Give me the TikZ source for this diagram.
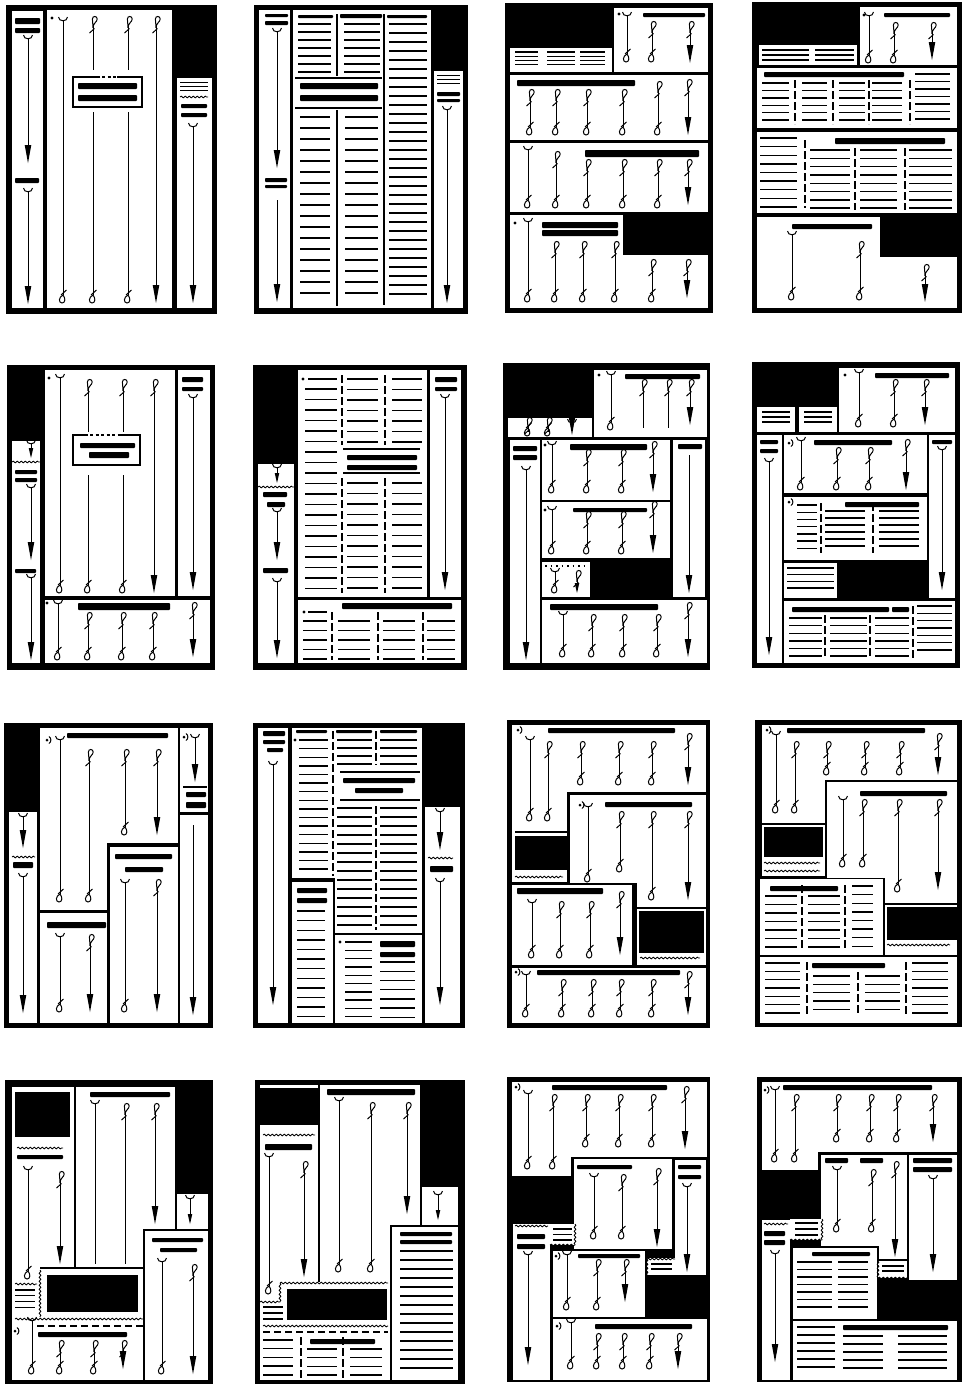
\documentclass[tikz,border=0pt]{standalone}
\usetikzlibrary{decorations.pathmorphing}
\tikzset{
  cl/.style={line width=0.9pt},
  gl/.style={line width=1pt},
  tline/.style={line width=1.4pt},
  rl/.style={line width=1.3pt,dash pattern=on 8pt off 3pt},
  rs/.style={line width=1.3pt},
  wv/.style={decorate,decoration={snake,amplitude=0.9pt,segment length=4pt},line width=0.8pt},
  bxl/.style={line width=1.5pt},
  pics/tc/.style={code={\draw[gl] (-4.5,-4) .. controls (-4.5,1) and (4.5,1) .. (4.5,-4);}},
  pics/tl/.style={code={\draw[gl] (0,1) .. controls (0,-4) and (4.2,-5) .. (4.2,-8) .. controls (4.2,-11.2) and (-0.6,-11.5) .. (-0.6,-8) .. controls (-0.6,-5) and (0,-3) .. (0,1); \draw[gl] (-3.5,6) -- (1.5,1.5);}},
  pics/tn/.style={code={}},
  pics/bl/.style={code={\draw[gl] (0,-8) .. controls (-4.6,-6) and (-4.6,0) .. (-1,0) .. controls (2.6,0) and (2.6,-5) .. (0,-8); \draw[gl] (-2,-8) -- (3.5,-13);}},
  pics/ba/.style={code={\fill (0,0) -- (-3.3,-18) -- (3.3,-18) -- cycle;}},
  pics/bs/.style={code={\fill (0,0) -- (-2.3,-10) -- (2.3,-10) -- cycle;}},
  pics/bn/.style={code={}},
}
\def\offBl{8}\def\offBa{8}\def\offBs{5}\def\offBn{0}
\newcommand\Fr[4]{\fill[black] (#1,#2) rectangle (#3,#4);}
\newcommand\Wb[4]{\fill[white] (#1,#2) rectangle (#3,#4);}
\newcommand\Hb[4]{\fill[black,rounded corners=0.8pt] (#1,#2) rectangle (#3,#4);}
\newcommand\Tl[3]{\draw[tline] (#1,#3) -- (#2,#3);}
\newcommand\Tls[6][]{\foreach \ii in {1,...,#6}{\draw[tline,#1] (#2,{#4+(\ii-1)*#5}) -- (#3,{#4+(\ii-1)*#5});}}
\newcommand\Kol[5]{\draw[cl] (#1,#2) -- (#1,{#3-\csname offB#5\endcsname}); \pic at (#1,#2) {t#4}; \pic at (#1,#3) {b#5};}
\newcommand\Dt[2]{\fill (#1,#2) circle (1.6pt);}
\newcommand\Dp[2]{\fill (#1,#2) circle (1.5pt); \draw[gl] ({#1+2},{#2-3.5}) .. controls ({#1+4.5},{#2-2}) and ({#1+4.5},{#2+2}) .. ({#1+2},{#2+3.5});}
\newcommand\Wv[3]{\draw[wv] (#1,#3) -- (#2,#3);}
\newcommand\Wvv[3]{\draw[wv] (#1,#2) -- (#1,#3);}
\newcommand\Rl[3]{\draw[rl] (#1,#2) -- (#1,#3);}
\newcommand\Rs[3]{\draw[rs] (#1,#2) -- (#1,#3);}
\newcommand\Hr[3]{\draw[rs] (#1,#3) -- (#2,#3);}
\newcommand\Dsh[3]{\draw[line width=1.3pt,dash pattern=on 7pt off 4pt] (#1,#3) -- (#2,#3);}
\begin{document}
\begin{tikzpicture}[x=1pt,y=-1pt]
\useasboundingbox (0,0) rectangle (970,1385);
\fill[white] (0,0) rectangle (970,1385);
% ================= P1
\Fr{6}{5}{217}{314}
\Wb{12}{11}{43}{308}\Wb{47}{10}{172}{308}\Wb{177}{78}{212}{308}
\Hb{15}{18}{40}{24}\Hb{15}{28}{40}{33}
\Kol{28}{39}{163}{c}{a}
\Hb{15}{178}{39}{183}
\Kol{28}{192}{304}{c}{a}
\Dt{52}{18}
\Kol{63}{21}{303}{c}{l}
\Kol{93}{27}{70}{l}{n}\Kol{93}{112}{303}{n}{l}
\Kol{128}{27}{70}{l}{n}\Kol{128}{112}{303}{n}{l}
\Kol{156}{27}{303}{l}{a}
\draw[bxl] (100,77) -- (73,77) -- (73,107) -- (142,107) -- (142,77) -- (117,77);
\draw[bxl,dash pattern=on 3pt off 2.5pt] (102,77) -- (117,77);
\Hb{78}{83}{137}{89}\Hb{78}{95}{137}{101}
\Tls[line width=1pt]{180}{208}{82}{4}{3}
\Wv{180}{208}{97}
\Hb{181}{104}{207}{108}\Hb{181}{113}{207}{117}
\Kol{193}{127}{303}{c}{a}
% ================= P2
\Fr{254}{5}{468}{314}
\Wb{259}{10}{290}{308}\Wb{293}{10}{431}{308}\Wb{434}{71}{463}{308}
\Hb{265}{14}{288}{17}\Hb{265}{21}{288}{25}
\Kol{277}{32}{168}{c}{a}
\Hb{265}{178}{287}{182}\Hb{265}{185}{287}{188}
\Kol{277}{200}{302}{n}{a}
\Hb{298}{15}{333}{18}\Hb{340}{14}{382}{18}\Hb{387}{15}{427}{18}
\Tls{298}{331}{24}{8}{7}
\Tls{344}{380}{24}{8}{7}
\Rs{337}{14}{76}\Rs{384}{14}{305}
\Hr{295}{382}{78}
\Hb{300}{83}{378}{89}\Hb{300}{95}{378}{101}
\Hr{295}{382}{108}
\Rs{337}{110}{306}
\Tls{300}{330}{117}{11}{17}
\Tls{345}{378}{117}{11}{17}
\Tls{389}{427}{24}{9}{31}
\Tls[line width=1pt]{437}{460}{75}{4}{3}
\Hb{437}{92}{460}{96}\Hb{437}{99}{460}{102}
\Kol{447}{110}{303}{c}{a}
% ================= P3
\Fr{505}{3}{713}{313}
\Wb{510}{48}{612}{72}\Wb{614}{8}{708}{72}\Wb{510}{75}{708}{140}\Wb{510}{143}{708}{212}
\Wb{510}{215}{623}{308}\Wb{510}{255}{708}{308}
\Tls[line width=1.1pt]{515}{538}{52}{4.3}{4}\Tls[line width=1.1pt]{547}{575}{52}{4.3}{4}\Tls[line width=1.1pt]{580}{605}{52}{4.3}{4}
\Dt{619}{14}
\Kol{627}{16}{62}{c}{l}
\Hb{643}{13}{705}{17}
\Kol{652}{32}{62}{l}{l}
\Kol{690}{32}{63}{l}{a}
\Hb{517}{80}{635}{86}
\Kol{530}{100}{135}{l}{l}\Kol{556}{100}{135}{l}{l}\Kol{587}{100}{135}{l}{l}\Kol{623}{100}{135}{l}{l}
\Kol{658}{92}{135}{l}{l}\Kol{688}{90}{135}{l}{a}
\Hb{585}{150}{699}{157}
\Kol{528}{150}{208}{c}{l}\Kol{556}{162}{208}{l}{l}\Kol{587}{170}{208}{l}{l}\Kol{623}{170}{208}{l}{l}
\Kol{658}{170}{208}{l}{l}\Kol{688}{170}{205}{l}{a}
\Dt{515}{223}
\Kol{528}{222}{302}{c}{l}
\Hb{542}{222}{618}{228}\Hb{542}{230}{618}{236}
\Kol{555}{252}{302}{l}{l}\Kol{583}{252}{302}{l}{l}\Kol{615}{252}{302}{l}{l}
\Kol{652}{270}{302}{l}{l}\Kol{687}{270}{298}{l}{a}
% ================= P4
\Fr{752}{2}{962}{313}
\Wb{759}{45}{857}{65}\Wb{860}{7}{957}{65}\Wb{757}{68}{957}{128}\Wb{757}{132}{957}{213}
\Wb{757}{217}{880}{308}\Wb{757}{257}{957}{308}
\Tls[line width=1.1pt]{762}{809}{50}{5}{3}\Tls[line width=1.1pt]{815}{854}{50}{5}{3}
\Dt{864}{15}
\Kol{869}{16}{63}{c}{l}
\Hb{884}{13}{950}{17}
\Kol{894}{33}{63}{l}{l}
\Kol{932}{33}{60}{l}{a}
\Hb{764}{72}{904}{77}
\Tls{762}{789}{83}{7.4}{6}\Tls{802}{827}{83}{7.4}{6}\Tls{839}{865}{83}{7.4}{6}\Tls{872}{902}{83}{7.4}{6}
\Tls{915}{950}{74}{7.5}{7}
\Rl{795}{80}{124}\Rl{833}{80}{124}\Rl{869}{80}{124}\Rl{910}{80}{124}
\Hb{835}{138}{945}{144}
\Tls{760}{797}{138}{8.6}{9}
\Rl{805}{140}{208}
\Tls{810}{850}{150}{8.3}{8}\Tls{860}{897}{150}{8.3}{8}\Tls{909}{952}{150}{8.3}{8}
\Rl{855}{148}{210}\Rl{905}{148}{210}
\Hb{792}{224}{872}{229}
\Kol{792}{235}{300}{c}{l}
\Kol{860}{252}{300}{l}{l}
\Kol{925}{275}{302}{l}{a}
% ================= P5
\Fr{7}{365}{215}{670}
\Wb{12}{441}{40}{663}\Wb{45}{370}{175}{596}\Wb{178}{370}{210}{596}\Wb{45}{600}{210}{663}
\Kol{31}{444}{458}{c}{s}
\Wv{12}{40}{462}
\Hb{15}{470}{37}{474}\Hb{15}{478}{37}{482}
\Kol{31}{488}{560}{c}{a}
\Hb{15}{569}{36}{573}
\Kol{31}{578}{660}{c}{a}
\Dt{49}{378}
\Kol{60}{378}{593}{c}{l}
\Kol{88}{390}{432}{l}{n}\Kol{88}{475}{593}{n}{l}
\Kol{123}{390}{432}{l}{n}\Kol{123}{475}{593}{n}{l}
\Kol{154}{390}{593}{l}{a}
\draw[bxl] (88,435) -- (73,435) -- (73,465) -- (140,465) -- (140,435) -- (120,435);
\draw[bxl,dash pattern=on 3pt off 2.5pt] (90,435) -- (120,435);
\Hb{80}{443}{135}{448}\Hb{89}{452}{129}{458}
\Hb{182}{377}{203}{382}\Hb{182}{387}{203}{391}
\Kol{193}{398}{590}{c}{a}
\Dt{47}{603}
\Kol{58}{604}{660}{c}{l}
\Hb{78}{603}{170}{610}
\Kol{88}{623}{660}{l}{l}\Kol{122}{623}{660}{l}{l}\Kol{153}{623}{660}{l}{l}
\Kol{193}{613}{657}{l}{a}
% ================= P6
\Fr{253}{365}{467}{670}
\Wb{258}{464}{294}{663}\Wb{298}{370}{427}{597}\Wb{430}{370}{461}{597}\Wb{298}{600}{461}{663}
\Kol{277}{468}{483}{c}{s}
\Wv{258}{294}{487}
\Hb{263}{492}{287}{497}\Hb{267}{502}{285}{507}
\Kol{277}{512}{560}{c}{a}
\Hb{263}{568}{288}{573}
\Kol{277}{582}{658}{c}{a}
\Dt{303}{379}
\Tl{308}{337}{379}
\Tls{305}{337}{389}{10.5}{20}
\Tls{347}{378}{379}{10.5}{7}\Tls{392}{422}{379}{10.5}{7}
\Hr{343}{420}{449}
\Hb{347}{455}{417}{460}\Hb{347}{465}{417}{470}
\Hr{343}{420}{473}
\Tls{347}{378}{483}{10.5}{11}\Tls{392}{422}{483}{10.5}{11}
\Rl{342}{375}{445}\Rl{342}{478}{593}\Rl{385}{375}{445}\Rl{385}{478}{593}
\Hb{435}{377}{457}{382}\Hb{435}{387}{457}{391}
\Kol{445}{398}{590}{c}{a}
\Dt{304}{612}
\Hb{342}{603}{452}{609}
\Tl{308}{327}{612}
\Tls{303}{327}{621}{9.5}{5}\Tls{338}{370}{621}{9.5}{5}\Tls{383}{415}{621}{9.5}{5}\Tls{427}{455}{621}{9.5}{5}
\Rl{332}{612}{660}\Rl{378}{612}{660}\Rl{423}{612}{660}
% ================= P7
\Fr{503}{363}{710}{670}
\Wb{508}{418}{592}{437}\Wb{594}{370}{707}{437}\Wb{510}{440}{540}{663}\Wb{542}{440}{670}{500}
\Wb{542}{502}{670}{558}\Wb{542}{562}{590}{597}\Wb{673}{440}{705}{597}\Wb{542}{600}{707}{663}
\begin{scope}[shift={(528,428)},scale=0.5]\Kol{0}{0}{16}{l}{l}\end{scope}
\begin{scope}[shift={(548,428)},scale=0.5]\Kol{0}{0}{16}{l}{l}\end{scope}
\begin{scope}[shift={(572,423)},scale=0.5]\Kol{0}{0}{24}{c}{a}\end{scope}
\Dt{599}{375}
\Kol{611}{375}{430}{c}{l}
\Hb{625}{374}{700}{379}
\Kol{643}{390}{428}{l}{n}\Kol{668}{390}{428}{l}{n}\Kol{690}{390}{425}{l}{a}
\Hb{513}{446}{537}{451}\Hb{513}{455}{537}{460}
\Kol{526}{470}{660}{c}{a}
\Dt{545}{445}
\Kol{552}{445}{493}{c}{l}
\Hb{570}{444}{647}{450}
\Kol{587}{460}{493}{l}{l}\Kol{622}{460}{493}{l}{l}\Kol{653}{452}{492}{l}{a}
\Dt{545}{510}
\Kol{552}{510}{554}{c}{l}
\Hb{573}{508}{647}{512}
\Kol{587}{522}{554}{l}{l}\Kol{622}{522}{554}{l}{l}\Kol{653}{512}{553}{l}{a}
\draw[line width=1.3pt,dash pattern=on 1.5pt off 4pt] (545,566) -- (585,566);
\Kol{555}{572}{593}{c}{l}
\Kol{577}{581}{593}{l}{s}
\Hb{678}{444}{702}{449}
\Kol{689}{455}{593}{n}{a}
\Hb{550}{604}{658}{610}
\Kol{563}{615}{657}{c}{l}
\Kol{592}{625}{657}{l}{l}\Kol{623}{625}{657}{l}{l}\Kol{657}{625}{657}{l}{l}
\Kol{688}{613}{657}{l}{a}
% ================= P8
\Fr{752}{362}{960}{668}
\Wb{757}{407}{795}{432}\Wb{799}{407}{837}{432}\Wb{839}{368}{955}{432}\Wb{757}{435}{782}{663}
\Wb{784}{435}{927}{493}\Wb{784}{497}{927}{560}\Wb{784}{563}{837}{598}\Wb{929}{435}{955}{598}\Wb{784}{601}{955}{663}
\Tls[line width=1.1pt]{762}{790}{412}{5}{3}\Tls[line width=1.1pt]{804}{832}{412}{5}{3}
\Dt{845}{375}
\Kol{859}{373}{427}{c}{l}
\Hb{875}{373}{949}{378}
\Kol{894}{390}{427}{l}{l}\Kol{925}{390}{425}{l}{a}
\Hb{760}{440}{778}{444}\Hb{760}{449}{778}{453}
\Kol{769}{462}{655}{c}{a}
\Dp{789}{443}
\Kol{801}{441}{490}{c}{l}
\Hb{814}{440}{892}{445}
\Kol{837}{458}{490}{l}{l}\Kol{869}{458}{490}{l}{l}\Kol{906}{450}{490}{l}{a}
\Dp{789}{502}
\Hb{845}{502}{919}{507}
\Tls{797}{817}{505}{7.2}{7}\Tls{825}{865}{511}{7}{6}\Tls{879}{919}{511}{7}{6}
\Rl{821}{503}{553}\Rl{873}{503}{553}
\Tls{787}{834}{568}{6.7}{4}
\Hb{932}{440}{952}{444}
\Kol{942}{450}{590}{c}{a}
\Hb{792}{607}{889}{612}\Hb{892}{607}{909}{612}
\Tls{789}{822}{618}{7.6}{6}\Tls{830}{867}{618}{7.6}{6}\Tls{875}{909}{618}{7.6}{6}\Tls{917}{952}{606}{7.3}{7}
\Rl{825}{615}{658}\Rl{870}{615}{658}\Rl{913}{606}{658}
% ================= P9
\Fr{4}{723}{213}{1028}
\Wb{9}{812}{37}{1023}\Wb{40}{728}{178}{843}\Wb{40}{843}{107}{910}\Wb{40}{913}{107}{1023}
\Wb{110}{847}{178}{1023}\Wb{180}{728}{208}{812}\Wb{180}{815}{208}{1023}
\Kol{23}{817}{848}{c}{a}
\Wv{12}{35}{857}
\Hb{13}{862}{33}{868}
\Kol{23}{877}{1013}{c}{a}
\Dp{47}{740}
\Kol{60}{740}{902}{c}{l}
\Hb{67}{733}{168}{738}
\Kol{89}{760}{902}{l}{l}\Kol{125}{760}{835}{l}{l}\Kol{157}{760}{835}{l}{a}
\Hb{47}{922}{106}{928}
\Kol{60}{937}{1012}{c}{l}\Kol{90}{945}{1012}{l}{a}
\Hb{115}{854}{172}{859}\Hb{125}{867}{163}{872}
\Kol{125}{883}{1012}{c}{l}\Kol{157}{890}{1012}{l}{a}
\Dp{184}{737}
\Kol{195}{738}{782}{c}{a}
\Tl{183}{207}{787}
\Hb{186}{792}{206}{797}\Hb{186}{802}{206}{808}
\Kol{193}{825}{1015}{n}{a}
% ================= P10
\Fr{253}{723}{465}{1028}
\Wb{258}{728}{288}{1023}\Wb{292}{728}{422}{878}\Wb{335}{878}{422}{933}\Wb{292}{882}{333}{1023}
\Wb{335}{935}{422}{1023}\Wb{425}{807}{460}{1023}
\Hb{263}{731}{285}{736}\Hb{263}{740}{285}{744}\Hb{267}{748}{283}{752}
\Kol{273}{765}{1005}{c}{a}
\Hb{296}{730}{327}{733}\Hb{336}{730}{372}{733}\Hb{380}{730}{417}{733}
\Dt{295}{740}
\Tls{299}{328}{740}{8.6}{16}
\Tls{337}{372}{740}{8}{4}\Tls{380}{417}{740}{8}{4}
\Hr{340}{420}{772}
\Hb{343}{778}{415}{783}\Hb{355}{788}{403}{793}
\Hr{340}{420}{800}
\Tls{337}{372}{808}{9}{14}\Tls{380}{417}{808}{9}{14}
\Rl{333}{731}{876}\Rl{376}{731}{765}\Rl{376}{806}{930}
\Hb{297}{888}{327}{893}\Hb{297}{898}{327}{903}
\Tls{297}{325}{911}{9.6}{12}
\Dt{340}{942}
\Hb{380}{941}{415}{947}\Hb{380}{952}{415}{957}
\Tls{345}{372}{942}{8.3}{10}
\Tls{380}{415}{962}{9.2}{7}
\Kol{440}{812}{850}{c}{a}
\Wv{428}{453}{858}
\Hb{430}{866}{453}{872}
\Kol{440}{882}{1005}{c}{a}
% ================= P11
\Fr{507}{720}{710}{1028}
\Wb{512}{725}{706}{792}\Wb{512}{792}{567}{882}\Wb{570}{795}{706}{883}\Wb{637}{883}{706}{965}
\Wb{512}{885}{632}{965}\Wb{512}{968}{706}{1023}
\Dp{518}{730}
\Kol{530}{740}{821}{c}{l}
\Hb{548}{728}{675}{733}
\Kol{548}{752}{821}{l}{l}\Kol{581}{752}{785}{l}{l}\Kol{619}{752}{785}{l}{l}\Kol{652}{752}{785}{l}{l}
\Kol{688}{744}{785}{l}{a}
\Hr{515}{567}{832}
\fill (515,836) rectangle (567,870);
\Wv{515}{563}{877}
\Dp{580}{805}
\Kol{588}{807}{882}{c}{l}
\Hb{605}{802}{692}{807}
\Kol{620}{822}{872}{l}{l}\Kol{652}{822}{900}{l}{l}\Kol{688}{822}{900}{l}{a}
\Hr{637}{706}{908}
\fill (639,911) rectangle (704,953);
\Wv{640}{700}{958}
\Hb{517}{888}{603}{894}
\Kol{532}{903}{958}{c}{l}
\Kol{560}{912}{958}{l}{l}\Kol{590}{912}{958}{l}{l}\Kol{620}{902}{955}{l}{a}
\Dp{516}{972}
\Kol{526}{975}{1017}{c}{l}
\Hb{537}{970}{680}{975}
\Kol{562}{990}{1017}{l}{l}\Kol{592}{990}{1017}{l}{l}\Kol{620}{990}{1017}{l}{l}\Kol{652}{990}{1017}{l}{l}
\Kol{688}{982}{1015}{l}{a}
% ================= P12
\Fr{755}{720}{962}{1027}
\Wb{762}{725}{957}{780}\Wb{762}{780}{825}{876}\Wb{827}{782}{957}{878}\Wb{885}{878}{957}{955}
\Wb{760}{879}{883}{955}\Wb{760}{957}{957}{1023}
\Dp{767}{730}
\Kol{776}{735}{813}{c}{l}
\Hb{787}{728}{925}{733}
\Kol{795}{752}{813}{l}{l}\Kol{827}{752}{775}{l}{l}\Kol{865}{752}{775}{l}{l}\Kol{900}{752}{775}{l}{l}
\Kol{938}{744}{775}{l}{a}
\Hr{762}{825}{824}
\fill (764,827) rectangle (823,857);
\Wv{764}{820}{863}\Wv{764}{820}{871}
\Hb{860}{791}{947}{796}
\Kol{843}{800}{867}{c}{l}\Kol{863}{810}{867}{l}{l}\Kol{898}{810}{892}{l}{l}\Kol{938}{810}{890}{l}{a}
\Hr{885}{957}{904}
\fill (887,907) rectangle (957,940);
\Wv{887}{950}{945}
\Hb{770}{886}{838}{891}
\Tls{765}{797}{896}{8.5}{7}\Tls{808}{840}{896}{8.5}{7}\Tls{852}{873}{886}{8.6}{8}
\Rl{802}{885}{950}\Rl{845}{885}{950}
\Hb{812}{963}{885}{968}
\Tls{765}{800}{963}{8.3}{7}\Tls{813}{850}{976}{8.3}{5}\Tls{865}{900}{976}{8.3}{5}\Tls{912}{948}{963}{8.3}{7}
\Rl{807}{962}{1015}\Rl{858}{972}{1015}\Rl{906}{962}{1015}
% ================= P13
\Fr{5}{1080}{213}{1384}
\Wb{12}{1087}{143}{1380}\Wb{143}{1087}{175}{1229}\Wb{177}{1194}{208}{1229}\Wb{145}{1231}{208}{1380}
\draw[line width=2.5pt] (75,1087) -- (75,1268);
\Hr{40}{143}{1268}
\fill (15,1092) rectangle (70,1137);
\Wv{17}{63}{1148}
\Hb{17}{1155}{63}{1159}
\Kol{28}{1170}{1279}{c}{l}
\Kol{60}{1182}{1264}{l}{a}
\Hb{90}{1092}{170}{1097}
\Kol{95}{1104}{1264}{c}{n}\Kol{125}{1114}{1264}{l}{n}\Kol{155}{1114}{1224}{l}{a}
\Kol{190}{1199}{1224}{c}{s}
\Hb{152}{1238}{203}{1242}\Hb{160}{1248}{197}{1252}
\Kol{162}{1262}{1374}{c}{l}\Kol{193}{1275}{1374}{l}{a}
\fill (47,1275) rectangle (138,1312);
\Wvv{40}{1270}{1317}
\Wv{15}{143}{1319}
\Wv{15}{37}{1284}
\Tls[line width=1.1pt]{15}{35}{1290}{5.7}{4}
\Dsh{37}{143}{1326}
\Dp{15}{1331}
\Kol{32}{1321}{1374}{c}{l}
\Hb{38}{1332}{127}{1337}
\Kol{60}{1351}{1374}{l}{l}\Kol{94}{1351}{1374}{l}{l}\Kol{123}{1351}{1369}{l}{a}
% ================= P14
\Fr{255}{1080}{465}{1384}
\Wb{260}{1085}{318}{1088}\Wb{260}{1125}{390}{1380}\Wb{320}{1085}{420}{1225}\Wb{320}{1225}{390}{1285}
\Wb{422}{1187}{458}{1225}\Wb{392}{1227}{458}{1380}
\draw[line width=2.5pt] (319,1085) -- (319,1282);
\Wv{263}{315}{1135}
\Hb{265}{1144}{312}{1150}
\Kol{269}{1157}{1294}{c}{l}
\Kol{304}{1172}{1277}{l}{a}
\Hb{327}{1089}{415}{1095}
\Kol{339}{1101}{1272}{c}{l}\Kol{371}{1113}{1272}{l}{l}\Kol{407}{1113}{1214}{l}{a}
\Kol{438}{1195}{1220}{c}{s}
\Hb{400}{1232}{452}{1236}\Hb{400}{1240}{452}{1244}
\Tls{400}{453}{1251}{9}{14}
\fill (287,1289) rectangle (387,1320);
\Wv{280}{388}{1283}
\Wvv{280}{1283}{1302}
\Wv{260}{280}{1302}
\Wv{263}{388}{1326}
\Tls[line width=1.1pt]{263}{283}{1307}{6}{3}
\Dsh{263}{388}{1332}
\Hb{310}{1339}{375}{1344}
\Tls{263}{293}{1340}{8.7}{5}\Tls{307}{337}{1349}{8.7}{4}\Tls{350}{382}{1349}{8.7}{4}
\Rl{301}{1337}{1378}\Rl{343}{1337}{1378}
% ================= P15
\Fr{507}{1077}{710}{1382}
\Wb{512}{1082}{707}{1157}\Wb{512}{1157}{571}{1176}\Wb{574}{1159}{672}{1249}\Wb{675}{1160}{706}{1275}
\Wb{513}{1224}{550}{1380}\Wb{550}{1224}{575}{1245}\Wb{553}{1251}{645}{1317}\Wb{647}{1258}{675}{1275}
\Wb{553}{1319}{707}{1380}
\Dsh{513}{572}{1177}
\Dp{516}{1087}
\Kol{528}{1094}{1169}{c}{l}
\Hb{552}{1085}{667}{1090}
\Kol{553}{1105}{1169}{l}{l}\Kol{586}{1105}{1147}{l}{l}\Kol{619}{1105}{1147}{l}{l}\Kol{652}{1105}{1147}{l}{l}
\Kol{685}{1097}{1149}{l}{a}
\Hb{577}{1165}{632}{1169}
\Kol{594}{1177}{1239}{c}{l}\Kol{622}{1185}{1239}{l}{l}\Kol{657}{1179}{1247}{l}{a}
\Hb{678}{1165}{701}{1169}\Hb{678}{1175}{701}{1179}
\Kol{687}{1187}{1272}{c}{a}
\Wv{515}{548}{1226}
\Hb{517}{1234}{545}{1239}\Hb{517}{1244}{545}{1249}
\Kol{528}{1255}{1365}{c}{a}
\Tls[line width=1.1pt]{553}{572}{1229}{5.5}{3}
\Wvv{575}{1224}{1245}\Wv{550}{575}{1245}
\Dp{556}{1256}
\Kol{567}{1255}{1310}{c}{l}
\Hb{578}{1254}{640}{1258}
\Kol{597}{1270}{1310}{l}{l}\Kol{625}{1270}{1302}{l}{a}
\Tls[line width=1.1pt]{651}{672}{1264}{5}{2}
\Wvv{647}{1259}{1275}\Wv{647}{675}{1259}
\Dp{557}{1326}
\Kol{571}{1323}{1369}{c}{l}
\Hb{595}{1324}{692}{1329}
\Kol{597}{1344}{1369}{l}{l}\Kol{623}{1344}{1369}{l}{l}\Kol{650}{1344}{1369}{l}{l}\Kol{678}{1344}{1369}{l}{a}
% ================= P16
\Fr{757}{1077}{962}{1382}
\Wb{762}{1082}{957}{1152}\Wb{762}{1152}{818}{1170}\Wb{821}{1155}{907}{1246}\Wb{879}{1246}{907}{1259}
\Wb{909}{1155}{957}{1280}\Wb{762}{1220}{790}{1380}\Wb{790}{1219}{822}{1240}\Wb{793}{1248}{877}{1319}
\Wb{878}{1261}{907}{1278}\Wb{793}{1321}{957}{1380}
\Dp{765}{1090}
\Kol{775}{1090}{1162}{c}{l}
\Hb{783}{1085}{932}{1090}
\Kol{795}{1105}{1162}{l}{l}\Kol{837}{1105}{1142}{l}{l}\Kol{870}{1105}{1142}{l}{l}\Kol{897}{1105}{1142}{l}{l}
\Kol{933}{1105}{1142}{l}{a}
\Dsh{763}{818}{1171}
\Hb{825}{1158}{848}{1163}\Hb{860}{1158}{883}{1163}
\Kol{837}{1170}{1232}{c}{l}\Kol{872}{1180}{1232}{l}{l}\Kol{895}{1172}{1257}{l}{a}
\Hb{913}{1158}{952}{1163}\Hb{913}{1167}{952}{1172}
\Kol{933}{1179}{1272}{c}{a}
\Wv{764}{788}{1224}
\Hb{764}{1231}{785}{1236}\Hb{764}{1240}{785}{1245}
\Kol{775}{1254}{1362}{c}{a}
\Tls[line width=1.1pt]{795}{818}{1223}{6}{3}
\Wvv{822}{1219}{1240}\Wv{790}{822}{1240}
\Hb{812}{1252}{870}{1256}
\Tls{797}{832}{1262}{7.5}{7}\Tls{838}{868}{1262}{7.5}{7}
\Tls[line width=1.1pt]{882}{904}{1266}{5}{2}
\Wvv{878}{1261}{1278}\Wv{878}{907}{1278}
\Hb{843}{1325}{948}{1330}
\Tls{797}{835}{1327}{8}{6}\Tls{843}{883}{1336}{8}{5}\Tls{898}{947}{1336}{8}{5}
\end{tikzpicture}
\end{document}
